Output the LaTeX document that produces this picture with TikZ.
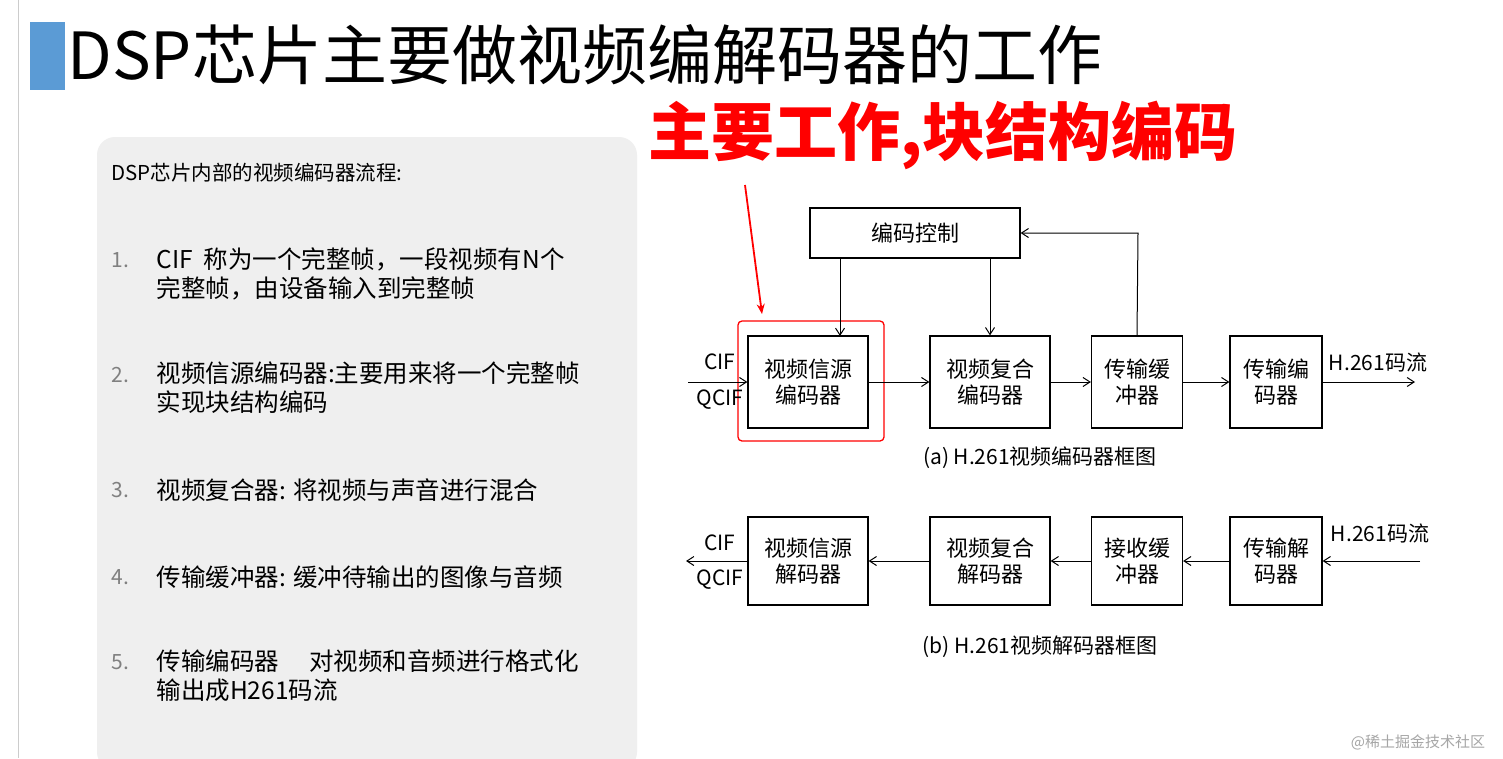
\documentclass[tikz,border=0pt]{standalone}
\usepackage{fontspec}
\setmainfont{Noto Sans CJK SC}
\usetikzlibrary{arrows.meta}
\begin{document}
\begin{tikzpicture}[x=1pt,y=-1pt,
  bx/.style={draw,line width=1.2pt,minimum width=120pt,minimum height=92pt,align=center,font=\fontsize{22}{26}\selectfont,inner sep=0pt},
  ar/.style={line width=1pt,-{Straight Barb[length=7pt,width=9pt]}},
  lbl/.style={font=\fontsize{21}{24}\selectfont},
  li/.style={anchor=west,font=\fontsize{24.5}{29}\selectfont,align=left}]
\useasboundingbox (0,0) rectangle (1503,758);
\fill[white] (0,0) rectangle (1503,758);
\draw[gray!40] (18,0) -- (18,758);
\fill[fill={rgb,255:red,91;green,155;blue,213}] (30,22) rectangle (65,90);
\node[anchor=west,font=\fontsize{65}{70}\selectfont] (title) at (64,55) {DSP芯片主要做视频编解码器的工作};
\node[anchor=west,text=red,font=\fontsize{63}{68}\selectfont\bfseries] (red) at (645,135) {主要工作,块结构编码};
\fill[rounded corners=18pt,fill={rgb,255:red,239;green,239;blue,239}] (97,137) rectangle (637,770);
\node[li,font=\fontsize{20.5}{24}\selectfont] (pt) at (108,173) {DSP芯片内部的视频编码器流程:};
\node[li,text=gray,font=\fontsize{21}{29}\selectfont] (n1) at (108,260) {1.};
\node[li] (t1) at (153,274) {CIF\ \ 称为一个完整帧，一段视频有N个\\完整帧，由设备输入到完整帧};
\node[li,text=gray,font=\fontsize{21}{29}\selectfont] (n2) at (108,375) {2.};
\node[li] (t2) at (153,388) {视频信源编码器:主要用来将一个完整帧\\实现块结构编码};
\node[li,text=gray,font=\fontsize{21}{29}\selectfont] (n3) at (108,490) {3.};
\node[li] (t3) at (153,490) {视频复合器: 将视频与声音进行混合};
\node[li,text=gray,font=\fontsize{21}{29}\selectfont] (n4) at (108,577) {4.};
\node[li] (t4) at (153,577) {传输缓冲器: 缓冲待输出的图像与音频};
\node[li,text=gray,font=\fontsize{21}{29}\selectfont] (n5) at (108,662) {5.};
\node[li] (t5) at (153,676) {传输编码器\quad\ 对视频和音频进行格式化\\输出成H261码流};
% encoder
\node[bx,minimum width=210pt,minimum height=50pt] (ctl) at (915,233) {编码控制};
\node[bx] (e1) at (808,382) {视频信源\\编码器};
\node[bx] (e2) at (990,382) {视频复合\\编码器};
\node[bx,minimum width=91pt] (e3) at (1137,382) {传输缓\\冲器};
\node[bx,minimum width=92pt] (e4) at (1276,382) {传输编\\码器};
\draw[red,line width=1.3pt,rounded corners=4pt] (738,321) rectangle (884,441);
\coordinate (ein) at (688,382); \coordinate (eout) at (1415,382);
\draw[ar] (ein) -- (e1); \draw[ar] (e1) -- (e2); \draw[ar] (e2) -- (e3); \draw[ar] (e3) -- (e4); \draw[ar] (e4) -- (eout);
\draw[ar] (ctl.south -| 840,0) -- (840,336);
\draw[ar] (ctl.south -| 990,0) -- (e2.north);
\draw[ar] (e3.north) -- (1138,233) -- (ctl.east);
\node[lbl] (c1) at (720,362) {CIF}; \node[lbl] (q1) at (720,400) {QCIF};
\node[lbl] (h1) at (1378,362) {H.261码流};
\node[lbl] (capa) at (1040,458) {(a) H.261视频编码器框图};
% decoder
\node[bx,minimum height=88pt] (d1) at (808,561) {视频信源\\解码器};
\node[bx,minimum height=88pt] (d2) at (990,561) {视频复合\\解码器};
\node[bx,minimum width=91pt,minimum height=88pt] (d3) at (1137,561) {接收缓\\冲器};
\node[bx,minimum width=92pt,minimum height=88pt] (d4) at (1276,561) {传输解\\码器};
\coordinate (din) at (1420,561); \coordinate (dout) at (686,561);
\draw[ar] (din) -- (d4); \draw[ar] (d4) -- (d3); \draw[ar] (d3) -- (d2); \draw[ar] (d2) -- (d1); \draw[ar] (d1) -- (dout);
\node[lbl] (c2) at (720,543) {CIF}; \node[lbl] (q2) at (720,580) {QCIF};
\node[lbl] (h2) at (1380,533) {H.261码流};
\node[lbl] (capb) at (1040,647) {(b) H.261视频解码器框图};
% red arrow
\coordinate (ra) at (745,185); \coordinate (rb) at (762,314);
\draw[red,line width=1.8pt,-{Stealth[length=10pt,width=8pt]}] (ra) -- (rb);
\node[text=gray!70,font=\fontsize{15}{18}\selectfont] (wm) at (1418,742) {@稀土掘金技术社区};
\end{tikzpicture}
\end{document}
